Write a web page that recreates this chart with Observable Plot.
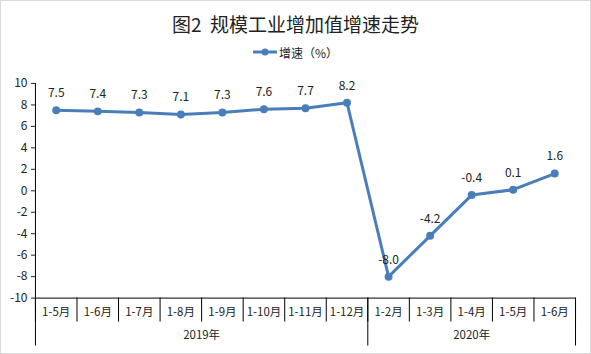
<!DOCTYPE html>
<html><head><meta charset="utf-8">
<script src="https://cdn.jsdelivr.net/npm/d3@7"></script>
<script src="https://cdn.jsdelivr.net/npm/@observablehq/plot@0.6"></script>
<style>
body{margin:0;background:#fff;}
#wrap{position:relative;width:591px;height:354px;box-sizing:border-box;border:1px solid #d9d9d9;font-family:"Noto Sans CJK SC","Noto Sans",sans-serif;overflow:hidden;}
#title{height:39px;line-height:46px;text-align:center;font-size:19px;color:#222;white-space:pre;}
#legend{height:24px;display:flex;align-items:center;justify-content:center;font-size:12px;color:#222;}
#legend svg{margin-right:2px;}
#chart{position:absolute;left:-1px;top:63px;}
</style></head>
<body><div id="wrap"><div id="title">图2  规模工业增加值增速走势</div>
<div id="legend"><svg width="24" height="10"><line x1="0" y1="5" x2="24" y2="5" stroke="#4a7ebb" stroke-width="3"/><circle cx="12" cy="5" r="3.5" fill="#4a7ebb"/></svg>增速（%）</div>
<div id="chart"></div></div>
<script>
const categories = ["1-5月","1-6月","1-7月","1-8月","1-9月","1-10月","1-11月","1-12月","1-2月","1-3月","1-4月","1-5月","1-6月"];
const values = [7.5,7.4,7.3,7.1,7.3,7.6,7.7,8.2,-8.0,-4.2,-0.4,0.1,1.6];
const years = ["2019年","2020年"];
const yearSpans = [[0,7],[8,12]];
const yTicks = [-10,-8,-6,-4,-2,0,2,4,6,8,10];

const data = values.map((v,i)=>({i, v, label: v.toFixed(1)}));
const idx = d3.range(categories.length);
const boundaries = d3.range(categories.length+1).map(i=>i-0.5);
const groupBounds = [yearSpans[0][0]-0.5, yearSpans[1][0]-0.5, yearSpans[1][1]+0.5];
const yearCenters = yearSpans.map(s=>(s[0]+s[1])/2);
const blue = "#4a7ebb";

const chart = Plot.plot({
  width: 591, height: 291,
  marginLeft: 35, marginRight: 15, marginTop: 19, marginBottom: 57,
  style: {fontFamily: '"Noto Sans CJK SC","Noto Sans",sans-serif', fontSize: "11.5px", color:"#222", background:"transparent"},
  x: {type:"linear", domain:[-0.5, categories.length-0.5], axis:null},
  y: {domain:[-10,10], axis:null},
  marks: [
    Plot.axisY({ticks:yTicks, tickSize:4, tickPadding:4, tickFormat:d=>String(d), fontSize:12, label:null}),
    Plot.ruleX([-0.5], {stroke:"#000"}),
    Plot.ruleY([-10], {stroke:"#000"}),
    Plot.axisX({ticks:boundaries, tickSize:24, tickFormat:()=>"", stroke:"#000", label:null}),
    Plot.axisX({ticks:groupBounds, tickSize:48, tickFormat:()=>"", stroke:"#000", label:null}),
    Plot.axisX({ticks:idx, tickSize:0, tickPadding:10, tickFormat:i=>categories[i], label:null}),
    Plot.axisX({ticks:yearCenters, tickSize:0, tickPadding:33, tickFormat:(c,k)=>years[k], label:null}),
    Plot.line(data, {x:"i", y:"v", stroke:blue, strokeWidth:3}),
    Plot.dot(data, {x:"i", y:"v", fill:blue, r:4}),
    Plot.text(data, {x:"i", y:"v", text:"label", dy:-17, fontSize:12, fill:"#222"})
  ]
});
document.getElementById("chart").appendChild(chart);
</script></body></html>
